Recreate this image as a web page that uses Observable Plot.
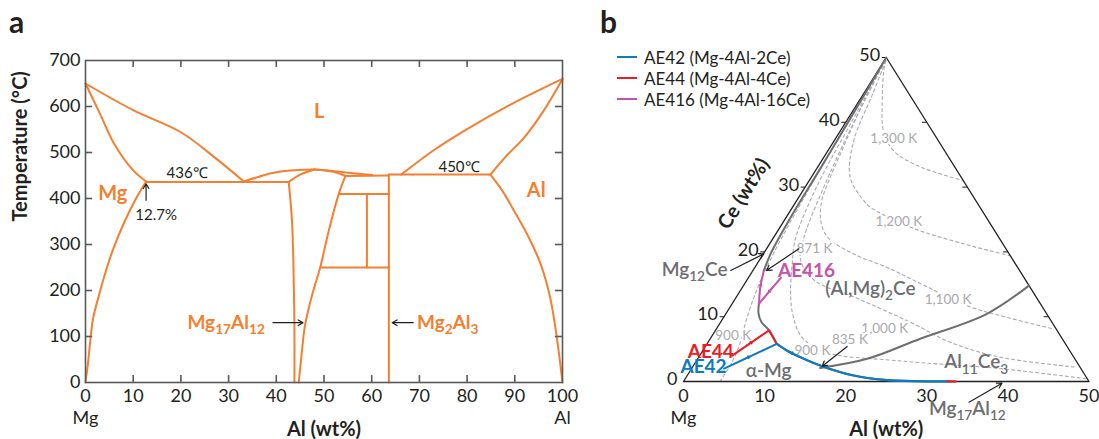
<!DOCTYPE html>
<html><head><meta charset="utf-8">
<script src="https://cdn.jsdelivr.net/npm/d3@7"></script>
<script src="https://cdn.jsdelivr.net/npm/@observablehq/plot@0.6"></script>
<style>
body{margin:0;background:#fff;font-family:Lato,"Noto Sans",sans-serif;}
#wrap{position:relative;width:1099px;height:439px;overflow:hidden;background:#fff}
#pa{position:absolute;left:0;top:0}
#pb{position:absolute;left:600px;top:0}
.tag{position:absolute;font-weight:bold;font-size:30px;color:#231f20;line-height:1}
.leg{position:absolute;left:617px;font-size:17px;color:#231f20;display:flex;align-items:center;white-space:nowrap;height:20px;margin-top:-10px}
.leg span{display:inline-block;width:20px;height:0;border-top:2.5px solid;margin-right:7px}
</style></head>
<body><div id="wrap">
<div id="pa"></div><div id="pb"></div>
<div class="tag" style="left:9px;top:6px">a</div>
<div class="tag" style="left:600px;top:6px">b</div>
<div id="legend"></div>
</div>
<script>
// ================= Panel a : Mg–Al phase diagram =================
const xTicksA = [0,10,20,30,40,50,60,70,80,90,100];
const yTicksA = [0,100,200,300,400,500,600,700];
const liquidusMg = [[0,650],[10,592],[20,544],[27,490],[33.2,437]];
const solidusMg  = [[0,650],[3,585],[6,519],[10,461],[12.7,437]];
const solvusMg   = [[0,0],[0.5,40],[1.1,100],[1.6,140],[3.1,200],[4.5,250],[5.8,290],[8.2,350],[10.6,400],[12.7,437]];
const eutectic436 = [[12.7,436],[42.6,436]];
const gammaLeft  = [[42.6,436],[43.3,350],[43.6,250],[43.8,120],[43.8,0]];
const gammaRight = [[44.7,0],[45.3,60],[46,123],[47.5,190],[49.2,250],[51,330],[53.1,410],[54.5,449]];
const liquidusMid = [[33.2,437],[39.5,456],[44,461.5],[48,463],[54.2,457],[60.1,451]];
const gammaSolL  = [[42.6,436],[45,452],[48,463]];
const gammaSolR  = [[48,463],[52,458],[54.5,449]];
const peritectic = [[54.5,449],[63.6,450]];
const betaLine   = [[63.6,0],[63.6,452]];
const eutectic450 = [[63.6,452],[84.9,452]];
const liquidusAl = [[66.2,452],[73,505],[80,551],[90,609],[100,660]];
const solidusAl  = [[84.9,452],[88,490],[92,533],[96,590],[100,660]];
const solvusAl   = [[84.9,452],[87.5,415],[89.8,374],[92.8,318],[95.4,258],[97.3,190],[98.5,120],[99.3,60],[100,0]];
const rectTop    = [[53.1,410],[63.6,410]];
const rectMid    = [[59,410],[59,250]];
const rectBottom = [[49.3,250],[63.6,250]];

const phaseLabels = [
  {al:49, t:590, text:"L"},
  {al:5.7, t:411, text:"Mg"},
  {al:94.5, t:417, text:"Al"}
];
const compoundLabelLeft = {al:37.6, t:130, text:"Mg₁₇Al₁₂"};
const compoundLabelRight = {al:69.5, t:130, text:"Mg₂Al₃"};
const compoundArrows = [
  {x1:39.3, x2:45.6, t:130},
  {x1:68.7, x2:64.3, t:130}
];
const tempLabels = [
  {al:21.3, t:454, text:"436℃"},
  {al:78.3, t:468, text:"450℃"},
  {al:14.8, t:363, text:"12.7%"}
];
const eutecticArrow = {al:12.7, t1:396, t2:432};

const orange = "#f47f30";
const axisGray = "#58595b";
const dark = "#231f20";

const curvesA = Object.entries({liquidusMg, solidusMg, solvusMg, eutectic436, gammaLeft, gammaRight,
  liquidusMid, gammaSolL, gammaSolR, peritectic, betaLine, eutectic450, liquidusAl, solidusAl, solvusAl,
  rectTop, rectMid, rectBottom}).flatMap(([id, pts]) => pts.map(([al, t]) => ({id, al, t})));

const inner = xTicksA.slice(1, -1), innerY = yTicksA.slice(1, -1);
const plotA = Plot.plot({
  width: 600, height: 439,
  marginLeft: 85, marginRight: 38, marginTop: 60, marginBottom: 57,
  x: {domain: [0, 100]}, y: {domain: [0, 700]},
  style: {fontFamily: "Lato, 'Noto Sans', sans-serif", fontSize: "17px", color: dark, background: "transparent", overflow: "visible"},
  marks: [
    Plot.line(curvesA, {x: "al", y: "t", z: "id", stroke: orange, strokeWidth: 2, curve: "catmull-rom"}),
    Plot.frame({stroke: axisGray, strokeWidth: 1.6}),
    Plot.ruleX(inner, {x: d => d, y1: 0, y2: 15, stroke: axisGray, strokeWidth: 1.6}),
    Plot.ruleX(inner, {x: d => d, y1: 700, y2: 685, stroke: axisGray, strokeWidth: 1.6}),
    Plot.ruleY(innerY, {y: d => d, x1: 0, x2: 1.5, stroke: axisGray, strokeWidth: 1.6}),
    Plot.ruleY(innerY, {y: d => d, x1: 100, x2: 98.5, stroke: axisGray, strokeWidth: 1.6}),
    Plot.axisX({ticks: xTicksA, tickSize: 0, tickPadding: 7, label: null, fontSize: 18, tickFormat: d => String(d)}),
    Plot.axisY({ticks: yTicksA, tickSize: 0, tickPadding: 5, label: null, fontSize: 18, tickFormat: d => String(d)}),
    Plot.text(["Mg", "Al"], {x: (d, i) => i ? 100 : 0, y: 0, dy: 36, text: d => d, fontSize: 18, fill: dark}),
    Plot.text(["Al (wt%)"], {x: 50, y: 0, dy: 47, text: d => d, fontSize: 20, fontWeight: "bold", fill: dark}),
    Plot.text(["Temperature (°C)"], {frameAnchor: "left", dx: -65, text: d => d, rotate: -90, fontSize: 20, fontWeight: "bold", fill: dark}),
    Plot.text(phaseLabels, {x: "al", y: "t", text: "text", fill: orange, fontSize: 20, fontWeight: "bold"}),
    Plot.text([compoundLabelLeft], {x: "al", y: "t", text: "text", textAnchor: "end", fill: orange, fontSize: 19, fontWeight: "bold"}),
    Plot.text([compoundLabelRight], {x: "al", y: "t", text: "text", textAnchor: "start", fill: orange, fontSize: 19, fontWeight: "bold"}),
    Plot.arrow(compoundArrows, {x1: "x1", x2: "x2", y1: "t", y2: "t", stroke: dark, strokeWidth: 1.2, headLength: 7}),
    Plot.text(tempLabels, {x: "al", y: "t", text: "text", fill: dark, fontSize: 15, fontFamily: "'Liberation Sans Narrow', Lato, sans-serif"}),
    Plot.arrow([eutecticArrow], {x1: "al", x2: "al", y1: "t1", y2: "t2", stroke: dark, strokeWidth: 1.2, headLength: 7})
  ]
});
document.getElementById("pa").appendChild(plotA);

// ================= Panel b : Mg–Al–Ce ternary (Mg corner) =================
const alTicks = [0,10,20,30,40,50];
const ceTicks = [0,10,20,30,40,50];
const triangle = [[0,0],[50,0],[0,50],[0,0]];
// boundaries (Al wt%, Ce wt%)
const mg12CeBoundary = [[0,50],[0.15,45],[0.3,40],[0.45,32],[0.56,25],[0.85,20],[1.35,17.1]];
const valleyUpper = [[3.3,12],[4.0,10.5],[5.0,9.2],[6.6,7.9],[8.5,5.9]];
const valleyLower = [[8.5,5.9],[10.5,4.7],[12.55,3.75],[15.9,2.36],[20.5,0.93],[24.6,0.26],[28.8,0.05],[33.5,0]];
const al11Ce3Boundary = [[15.8,2.1],[20.9,3.5],[25.9,6.6],[32.2,10.45],[35.2,14.8]];
// solidification paths
const ae42Path = [[4,2],[8.6,5.8]];
const ae42Valley = [[8.6,5.8],[10.5,4.7],[12.55,3.75],[15.9,2.36],[20.5,0.93],[24.6,0.26],[28.8,0.05],[32.5,0.02]];
const ae44Path = [[4,4],[6.6,7.9],[8.5,5.9]];
const ae44End = [[32.5,0.02],[33.6,0]];
const ae416Path = [[4,16],[3.3,12]];
const ae416Up = [[3.3,12],[2.2,14.55],[1.35,17.1]];
// isotherms (dashed)
const iso1300 = [[0.2,49.5],[0.7,48],[3,43],[5.3,38.7],[8.1,35.6],[12.7,33.1],[19.05,31.0]];
const iso1200 = [[0.2,49.5],[1.2,44],[2.4,37.2],[4.8,31.5],[8.3,27.9],[9.6,26.9],[16.1,23.8],[23.9,21.25],[30.6,19.4]];
const iso1100 = [[0.1,49.5],[0.8,42],[1.8,35],[2.6,30],[3.1,27.9],[4.5,24.85],[6.6,22.3],[11.1,19.7],[16.3,17.6],[21.7,15.1],[29.1,11.7],[34.9,9.9],[41.6,8.1]];
const iso1000 = [[0.1,49.5],[1.0,40],[2.3,30],[3.8,22],[5.1,18.7],[8.5,15.5],[14.6,13.0],[23.4,9.15],[30,6],[37.2,3.75],[47.4,2.2]];
const iso900R = [[0.1,49.5],[0.7,40],[1.4,30],[2.8,22],[4.4,18],[6.2,14],[8.2,10.5],[11,7],[15,4.6],[24.9,3.2],[37.9,2.0],[49.6,0.4]];
const iso900L = [[4.5,0],[4.5,3],[4.0,6],[3.0,9.5],[2.0,14],[1.2,20],[0.6,30],[0.2,40],[0.05,49.5]];

const isoLabels = [
  {a:7.2, c:37.45, text:"1,300 K"},
  {a:14.25, c:24.6, text:"1,200 K"},
  {a:26.3, c:12.65, text:"1,100 K"},
  {a:20.75, c:8.13, text:"1,000 K"},
  {a:13.5, c:4.78, text:"900 K"},
  {a:2.58, c:7.1, text:"900 K"},
  {a:5.9, c:20.5, text:"871 K"},
  {a:17.3, c:6.43, text:"835 K"}
];
const phaseLabelsB = [
  {a:15.9, c:14.3, text:"(Al,Mg)₂Ce"},
  {a:34.6, c:2.98, text:"Al₁₁Ce₃"},
  {a:9.7, c:1.59, text:"α-Mg"},
  {a:37.1, c:-4.2, text:"Mg₁₇Al₁₂"}
];
const mg12CeLabel = {a:-3.19, c:17.24, text:"Mg₁₂Ce"};
const alloyLabels = [
  {a:6.67, c:17.0, text:"AE416", color:"#c554a8"},
  {a:1.05, c:4.63, text:"AE44", color:"#ed1c24"},
  {a:1.37, c:2.2, text:"AE42", color:"#0b7cc1"}
];
const labelArrows = [
  {a1:-2.74, c1:17.13, a2:0.05, c2:19.7},
  {a1:3.98, c1:20.48, a2:1.67, c2:17.13},
  {a1:17.48, c1:5.4, a2:15.92, c2:2.36},
  {a1:36.8, c1:-3.19, a2:39.4, c2:-0.26}
];
const legendItems = [
  {name:"AE42 (Mg-4Al-2Ce)", color:"#0b7cc1"},
  {name:"AE44 (Mg-4Al-4Ce)", color:"#ed1c24"},
  {name:"AE416 (Mg-4Al-16Ce)", color:"#c554a8"}
];

const blue = "#0b7cc1", red = "#ed1c24", magenta = "#c554a8", bGray = "#6d6e71", dashGray = "#a7a9ac";
// ternary projection: horizontal = Al + Ce/2, vertical = Ce
const P = pts => pts.map(([a, c]) => ({x: a + c / 2, y: c}));
const tx = d => d.a + d.c / 2;
// small mid-segment arrowheads along a straight path leg
const midArrow = ([p, q], f = 0.5) => {
  const s = P([p, q]);
  const dx = s[1].x - s[0].x, dy = s[1].y - s[0].y, L = Math.hypot(dx, dy);
  const mx = s[0].x + dx * f, my = s[0].y + dy * f;
  return {x1: mx - dx / L * 0.6, y1: my - dy / L * 0.6, x2: mx + dx / L * 0.3, y2: my + dy / L * 0.3};
};
const heads = [
  {...midArrow([ae42Path[0], ae42Path[1]], 0.45), color: blue},
  {...midArrow([ae44Path[0], ae44Path[1]], 0.5), color: red},
  {...midArrow([ae416Path[0], ae416Path[1]], 0.5), color: magenta},
  {...midArrow([ae416Up[1], ae416Up[2]], 0.1), color: magenta},
  {...midArrow([ae42Valley[1], ae42Valley[2]], 0.3), color: blue}
];

const lineB = (pts, o) => Plot.line(P(pts), {x: "x", y: "y", curve: "catmull-rom", ...o});
const narrow = "'Liberation Sans Narrow', Lato, sans-serif";

const plotB = Plot.plot({
  width: 499, height: 439, margin: 0,
  x: {domain: [0, 50], range: [83, 488.5], axis: null},
  y: {domain: [0, 50], range: [381, 57], axis: null},
  style: {fontFamily: "Lato, 'Noto Sans', sans-serif", fontSize: "17px", color: dark, background: "transparent", overflow: "visible"},
  marks: [
    ...[iso1300, iso1200, iso1100, iso1000, iso900R, iso900L].map(s => lineB(s, {stroke: dashGray, strokeWidth: 1.1, strokeDasharray: "3,3"})),
    Plot.text(isoLabels, {x: tx, y: "c", text: "text", fill: dashGray, fontSize: 13.5, fontFamily: narrow, stroke: "white", strokeWidth: 4, paintOrder: "stroke"}),
    Plot.line(P(triangle), {x: "x", y: "y", stroke: "#231f20", strokeWidth: 1.3}),
    Plot.link(ceTicks.slice(1), {x1: c => c / 2, y1: c => c, x2: c => c / 2 - 0.55, y2: c => c, stroke: dark, strokeWidth: 1}),
    Plot.link(ceTicks.slice(1, -1), {x1: c => 50 - c / 2, y1: c => c, x2: c => 50 - c / 2 - 0.6, y2: c => c, stroke: dark, strokeWidth: 1}),
    Plot.text(alTicks, {x: a => a, y: 0, dy: 15, text: d => String(d), fontSize: 18, fill: dark}),
    Plot.text(ceTicks, {x: c => c / 2, y: c => c, dx: -6, dy: -2, textAnchor: "end", text: d => String(d), fontSize: 18, fill: dark}),
    Plot.text(["Mg"], {x: 0, y: 0, dy: 37, text: d => d, fontSize: 18, fill: dark}),
    Plot.text(["Al (wt%)"], {x: 25, y: 0, dy: 48, text: d => d, fontSize: 20, fontWeight: "bold", fill: dark}),
    Plot.text(["Ce (wt%)"], {x: 7.43, y: 28.97, text: d => d, rotate: -58, fontSize: 20, fontWeight: "bold", fill: dark}),
    lineB(mg12CeBoundary, {stroke: bGray, strokeWidth: 2}),
    lineB(valleyUpper, {stroke: bGray, strokeWidth: 2}),
    lineB(valleyLower, {stroke: bGray, strokeWidth: 2}),
    lineB(al11Ce3Boundary, {stroke: bGray, strokeWidth: 2}),
    lineB(ae416Up, {stroke: magenta, strokeWidth: 2}),
    lineB(ae416Path, {stroke: magenta, strokeWidth: 2}),
    Plot.line(P(ae44Path), {x: "x", y: "y", stroke: red, strokeWidth: 2}),
    lineB(ae42Path, {stroke: blue, strokeWidth: 2}),
    lineB(ae42Valley, {stroke: blue, strokeWidth: 2.2}),
    lineB(ae44End, {stroke: red, strokeWidth: 2.2}),
    Plot.arrow(heads, {x1: "x1", y1: "y1", x2: "x2", y2: "y2", stroke: "color", strokeWidth: 1.5, headLength: 6}),
    Plot.arrow(labelArrows, {x1: d => d.a1 + d.c1 / 2, y1: "c1", x2: d => d.a2 + d.c2 / 2, y2: "c2", stroke: dark, strokeWidth: 1.2, headLength: 7}),
    Plot.text(phaseLabelsB, {x: tx, y: "c", text: "text", fill: bGray, fontSize: 19, fontWeight: 600}),
    Plot.text([mg12CeLabel], {x: tx, y: "c", text: "text", textAnchor: "end", fill: bGray, fontSize: 19, fontWeight: 600}),
    Plot.text(alloyLabels, {x: tx, y: "c", text: "text", fill: "color", fontSize: 19, fontWeight: "bold"})
  ]
});
document.getElementById("pb").appendChild(plotB);

// legend
const leg = document.getElementById("legend");
legendItems.forEach((d, i) => {
  const el = document.createElement("div");
  el.className = "leg";
  el.style.top = (57 + i * 21) + "px";
  el.innerHTML = `<span style="border-color:${d.color}"></span>${d.name}`;
  leg.appendChild(el);
});

// render unicode subscripts as real subscript tspans
function subify(svg) {
  const digits = "₀₁₂₃₄₅₆₇₈₉";
  svg.querySelectorAll("text").forEach(t => {
    const s = t.textContent;
    if (![...s].some(ch => digits.includes(ch))) return;
    const fs = parseFloat(getComputedStyle(t).fontSize) || 17;
    const runs = [];
    let cur = "", sub = null;
    for (const ch of s) {
      const i = digits.indexOf(ch), isSub = i >= 0;
      if (sub !== null && isSub !== sub) { runs.push([cur, sub]); cur = ""; }
      sub = isSub; cur += isSub ? String(i) : ch;
    }
    runs.push([cur, sub]);
    while (t.firstChild) t.removeChild(t.firstChild);
    let prev = false;
    const shift = fs * 0.28;
    runs.forEach(([txt, isSub]) => {
      const ts = document.createElementNS("http://www.w3.org/2000/svg", "tspan");
      ts.textContent = txt;
      if (isSub) { ts.setAttribute("font-size", (fs * 0.72).toFixed(1)); ts.setAttribute("dy", shift.toFixed(1)); }
      else if (prev) ts.setAttribute("dy", (-shift).toFixed(1));
      t.appendChild(ts);
      prev = isSub;
    });
  });
}
subify(plotA); subify(plotB);
</script>
</body></html>
